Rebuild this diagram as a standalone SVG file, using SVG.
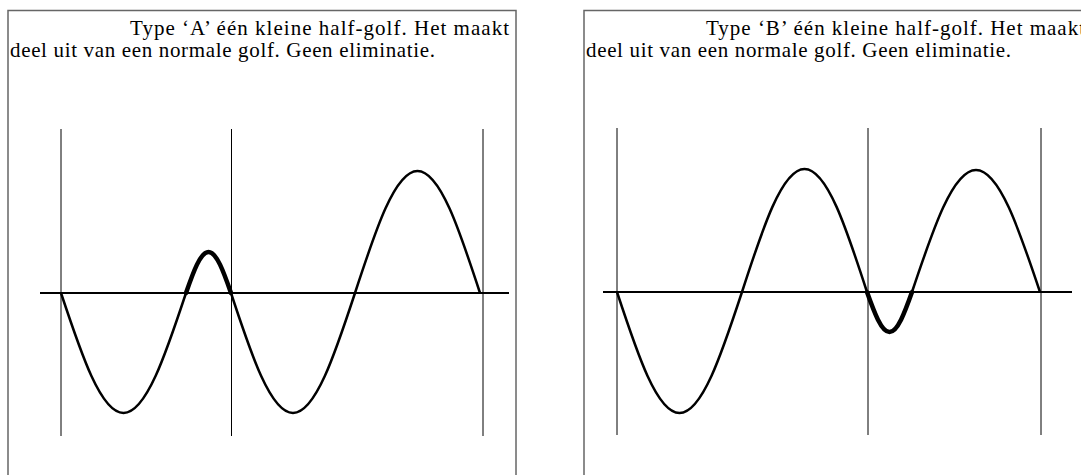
<svg xmlns="http://www.w3.org/2000/svg" width="1081" height="475" viewBox="0 0 1081 475">
<style>
.frame{fill:none;stroke:#666;stroke-width:1.5}
.txt{font-family:"Liberation Serif","Times New Roman",serif;font-size:21px;fill:#000}
.grid{stroke:#000;stroke-width:1}
.axis{stroke:#000;stroke-width:2}
.wave{fill:none;stroke:#000;stroke-width:2.5;stroke-linejoin:round}
.small{fill:none;stroke:#000;stroke-width:4.5;stroke-linecap:round}
</style>
<rect x="0" y="0" width="1081" height="475" fill="#fff"/>
<g id="panelA">
<rect class="frame" x="8" y="10.5" width="508" height="480"/>
<text class="txt" x="130" y="35" textLength="379" lengthAdjust="spacing">Type ‘A’ één kleine half-golf. Het maakt</text>
<text class="txt" x="10" y="57" textLength="425" lengthAdjust="spacing">deel uit van een normale golf. Geen eliminatie.</text>
<line class="grid" x1="61" y1="129" x2="61" y2="436"/>
<line class="grid" x1="231.5" y1="129" x2="231.5" y2="436"/>
<line class="grid" x1="483" y1="129" x2="483" y2="436"/>
<line class="axis" x1="40" y1="293" x2="509" y2="293"/>
<path class="wave" d="M61,293 C81.4,354.5 100.9,413 123.5,413 C146.1,413 165.6,354.5 186,293 M231,293 C251.2,354.5 270.6,413 293,413 C315.4,413 334.8,354.5 355,293 C375.4,230.5 394.9,171 417.5,171 C440.1,171 459.6,230.5 480,293"/>
<path class="small" d="M186,293 C193.3,272 200.4,252 208.5,252 C216.6,252 223.7,272 231,293"/>
</g>
<g id="panelB">
<rect class="frame" x="584" y="10.5" width="520" height="480"/>
<text class="txt" x="706" y="35" textLength="379" lengthAdjust="spacing">Type ‘B’ één kleine half-golf. Het maakt</text>
<text class="txt" x="586" y="57" textLength="425" lengthAdjust="spacing">deel uit van een normale golf. Geen eliminatie.</text>
<line class="grid" x1="617" y1="128" x2="617" y2="435"/>
<line class="grid" x1="868" y1="128" x2="868" y2="435"/>
<line class="grid" x1="1041" y1="128" x2="1041" y2="435"/>
<line class="axis" x1="603" y1="292" x2="1072" y2="292"/>
<path class="wave" d="M617,292 C637.4,354 656.9,413 679.5,413 C702.1,413 721.6,354 742,292 C762.4,229 781.9,169 804.5,169 C827.1,169 846.6,229 867,292 M912,292 C932.9,229.5 952.8,170 976,170 C999.2,170 1019.1,229.5 1040,292"/>
<path class="small" d="M867,292 C874.3,312.5 881.4,332 889.5,332 C897.6,332 904.7,312.5 912,292"/>
</g>
</svg>
